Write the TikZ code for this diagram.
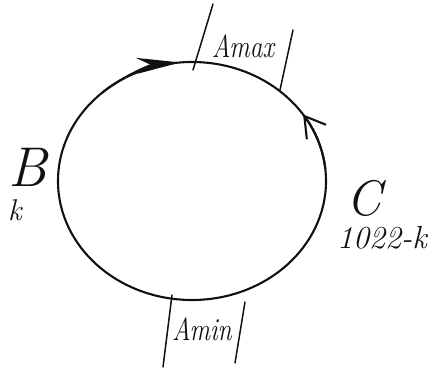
\documentclass[tikz,border=0pt]{standalone}
\usepackage{fontspec}
\usepackage{tikz}
\usetikzlibrary{arrows.meta,calc,positioning}
\definecolor{Ink}{HTML}{111111}

\begin{document}
\begin{tikzpicture}[x=1pt,y=-1pt,
    ink/.style={Ink, line width=2.1pt, line cap=round},
    bar/.style={Ink, line width=1.5pt, line cap=round},
    hand/.style={Ink, inner sep=0pt}]
  \useasboundingbox (0,0) rectangle (431,370);
  \coordinate (ctr) at (192,181);
  \draw[ink] (ctr) ellipse [x radius=134, y radius=119];
  % arrows toward the top
  \draw[ink, -{Stealth[length=44pt,width=16pt]}] ($(ctr)+(-132:134 and 119)$) arc[start angle=-132, end angle=-95, x radius=134, y radius=119];
  \draw[ink, -{Straight Barb[length=20pt,width=24pt]}] ($(ctr)+(-6:134 and 119)$) arc[start angle=-6, end angle=-34, x radius=134, y radius=119];
  % bars
  \foreach \a/\b in {213/4, 293/30, 172/295, 245/302}{
    \coordinate (t\a) at (\a,\b);
  }
  \draw[bar] (t213) -- (193,70);
  \draw[bar] (t293) -- (280,90);
  \draw[bar] (t172) -- (163,367);
  \draw[bar] (t245) -- (235,363);
  % labels
  \node[hand, xscale=0.8, font=\itshape\fontsize{32}{32}\selectfont] (amax) at (243,46) {Amax};
  \node[hand, xscale=0.8, font=\itshape\fontsize{32}{32}\selectfont] (amin) at (202,329) {Amin};
  \node[hand, font=\itshape\fontsize{56}{56}\selectfont] (b) at (28,167) {B};
  \node[hand, font=\itshape\fontsize{30}{30}\selectfont] (k) at (15,210) {k};
  \node[hand, font=\itshape\fontsize{50}{50}\selectfont] (c) at (364,198) {C};
  \node[hand, font=\itshape\fontsize{32}{32}\selectfont] (ck) at (382,238) {1022-k};
\end{tikzpicture}
\end{document}
